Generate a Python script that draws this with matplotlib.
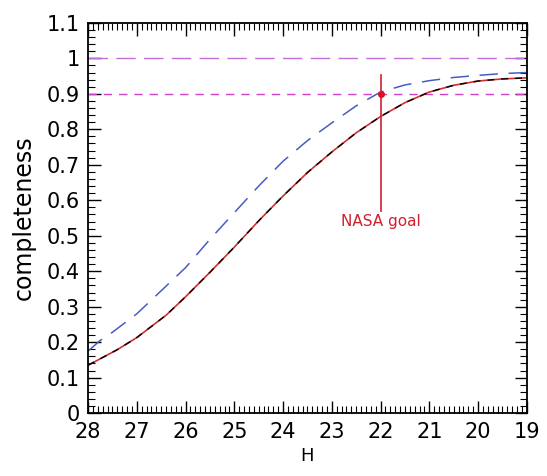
import matplotlib
matplotlib.use("Agg")
import matplotlib.pyplot as plt
from matplotlib.ticker import MultipleLocator

# completeness vs H magnitude
h_black = [28.0, 27.4, 27.0, 26.4, 26.0, 25.5, 25.0, 24.5, 24.0, 23.5, 23.0, 22.5, 22.0, 21.5, 21.0, 20.5, 20.0, 19.5, 19.0]
c_black = [0.135, 0.179, 0.213, 0.276, 0.328, 0.397, 0.468, 0.542, 0.612, 0.678, 0.736, 0.79, 0.836, 0.875, 0.905, 0.924, 0.936, 0.942, 0.945]

h_blue = [28.0, 27.75, 27.5, 27.0, 26.5, 26.0, 25.5, 25.0, 24.5, 24.0, 23.5, 23.0, 22.5, 22.0, 21.5, 21.0, 20.5, 20.0, 19.5, 19.0]
c_blue = [0.175, 0.205, 0.228, 0.28, 0.345, 0.41, 0.49, 0.565, 0.64, 0.71, 0.768, 0.818, 0.866, 0.905, 0.925, 0.937, 0.946, 0.952, 0.957, 0.96]

goal_h = 22.0
goal_c = 0.9
goal_line = [0.57, 0.952]
ref_levels = [1.0, 0.9]

plt.rcParams["font.family"] = ["DejaVu Sans"]

fig = plt.figure(figsize=(5.47, 4.76), dpi=100)
ax = fig.add_axes([0.161, 0.132, 0.802, 0.82])

# reference levels
ax.axhline(ref_levels[0], color="#c070d8", linewidth=1.0, dashes=(14, 6))
ax.axhline(ref_levels[1], color="#d040c8", linewidth=1.0, dashes=(6, 5))

# completeness curves
ax.plot(h_blue, c_blue, color="#4a5cc0", linewidth=1.1, dashes=(12, 7))
ax.plot(h_black, c_black, color="#d03030", linewidth=1.2)
ax.plot(h_black, c_black, color="black", linewidth=1.0, dashes=(5, 5))

# NASA goal marker
ax.plot([goal_h, goal_h], goal_line, color="#d02030", linewidth=1.2)
ax.plot(goal_h, goal_c, "o", color="#e01020", markersize=4)
ax.text(goal_h, goal_line[0] - 0.008, "NASA goal", color="#d02030",
        ha="center", va="top", fontsize=11)

ax.set_xlim(28, 19)
ax.set_ylim(0, 1.1)
ax.xaxis.set_major_locator(MultipleLocator(1))
ax.xaxis.set_minor_locator(MultipleLocator(0.1))
ax.yaxis.set_minor_locator(MultipleLocator(0.02))
ax.set_yticks([0, 0.1, 0.2, 0.3, 0.4, 0.5, 0.6, 0.7, 0.8, 0.9, 1.0, 1.1])
ax.set_yticklabels(["0", "0.1", "0.2", "0.3", "0.4", "0.5", "0.6", "0.7", "0.8", "0.9", "1", "1.1"])
ax.tick_params(which="both", direction="in", top=True, right=True, color="black")
ax.tick_params(which="major", length=9, width=1.0, labelsize=15, pad=6)
ax.tick_params(which="minor", length=5, width=0.8)
for sp in ax.spines.values():
    sp.set_linewidth(1.3)

ax.set_xlabel("H", fontsize=13, labelpad=4)
ax.set_ylabel("completeness", fontsize=17, labelpad=8)

fig.savefig("out.png", dpi=100)
